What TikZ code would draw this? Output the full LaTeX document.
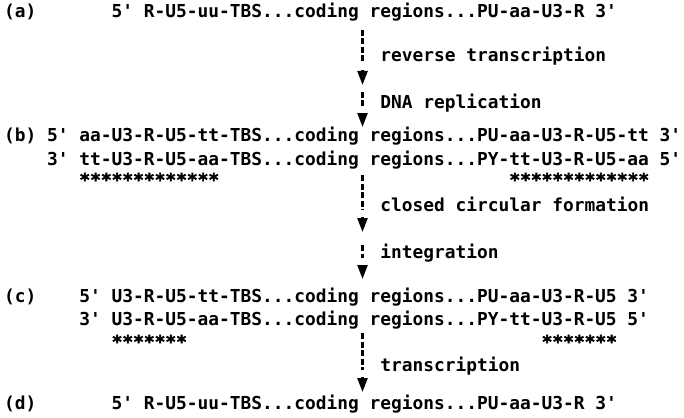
\documentclass[tikz,border=0pt]{standalone}
\usepackage{fontspec}
\newfontfamily\seqfont{DejaVu Sans Mono}
\newfontfamily\starfont{DejaVu Sans Mono Bold}[FakeBold=2.5]
\usetikzlibrary{arrows.meta}

% one typewriter cell is 10.75pt wide, counted from the left margin
\newcommand{\cell}[1]{4+#1*10.75}

\tikzset{
  seq/.style={anchor=base west, inner sep=0pt, text=black,
    font=\seqfont\bfseries\fontsize{17.85}{20}\selectfont},
  ltr/.style={seq, font=\starfont\fontsize{17.85}{20}\selectfont},
  bar/.style={draw=black, line width=2.4pt, dash pattern=on 6pt off 2.5pt},
  head/.style={draw=black, line width=2.4pt, shorten <=7pt,
    -{Triangle[width=10pt,length=14pt]}},
}

\begin{document}
\begin{tikzpicture}[x=1pt,y=-1pt]
  \useasboundingbox (0,0) rectangle (684,417);

  % step labels
  \foreach \tag/\y in {a/18, b/141, c/302, d/409}
    \node[seq] (tag\tag) at (\cell{0},\y) {(\tag)};

  % (a) viral RNA
  \node[seq] (rnaA) at (\cell{10},18) {5' R-U5-uu-TBS...coding regions...PU-aa-U3-R 3'};
  % (b) linear DNA
  \node[seq] (dnaB1) at (\cell{4},141) {5' aa-U3-R-U5-tt-TBS...coding regions...PU-aa-U3-R-U5-tt 3'};
  \node[seq] (dnaB2) at (\cell{4},165) {3' tt-U3-R-U5-aa-TBS...coding regions...PY-tt-U3-R-U5-aa 5'};
  \node[ltr] (ltrBl) at (\cell{7},186) {*************};
  \node[ltr] (ltrBr) at (\cell{47},186) {*************};
  % (c) provirus
  \node[seq] (proC1) at (\cell{7},302) {5' U3-R-U5-tt-TBS...coding regions...PU-aa-U3-R-U5 3'};
  \node[seq] (proC2) at (\cell{7},325) {3' U3-R-U5-aa-TBS...coding regions...PY-tt-U3-R-U5 5'};
  \node[ltr] (ltrCl) at (\cell{10},348) {*******};
  \node[ltr] (ltrCr) at (\cell{50},348) {*******};
  % (d) progeny RNA
  \node[seq] (rnaD) at (\cell{10},409) {5' R-U5-uu-TBS...coding regions...PU-aa-U3-R 3'};

  % steps along the arrow column
  \node[seq] (revtr) at (\cell{35},62) {reverse transcription};
  \node[seq] (dnarep) at (\cell{35},108) {DNA replication};
  \node[seq] (circ) at (\cell{35},211) {closed circular formation};
  \node[seq] (integ) at (\cell{35},258) {integration};
  \node[seq] (transcr) at (\cell{35},371) {transcription};

  % dashed stem, then the arrowhead a little below it
  \foreach \i/\top/\mid/\bot in {1/30/63/85, 2/92/106/127, 3/175/210/232,
      4/245/258/279, 5/333/370/392} {
    \coordinate (s\i) at (\cell{33.35},\top);
    \coordinate (m\i) at (\cell{33.35},\mid);
    \coordinate (e\i) at (\cell{33.35},\bot);
    \draw[bar] (s\i) -- (m\i);
    \draw[head] (m\i) -- (e\i);
  }
\end{tikzpicture}
\end{document}
